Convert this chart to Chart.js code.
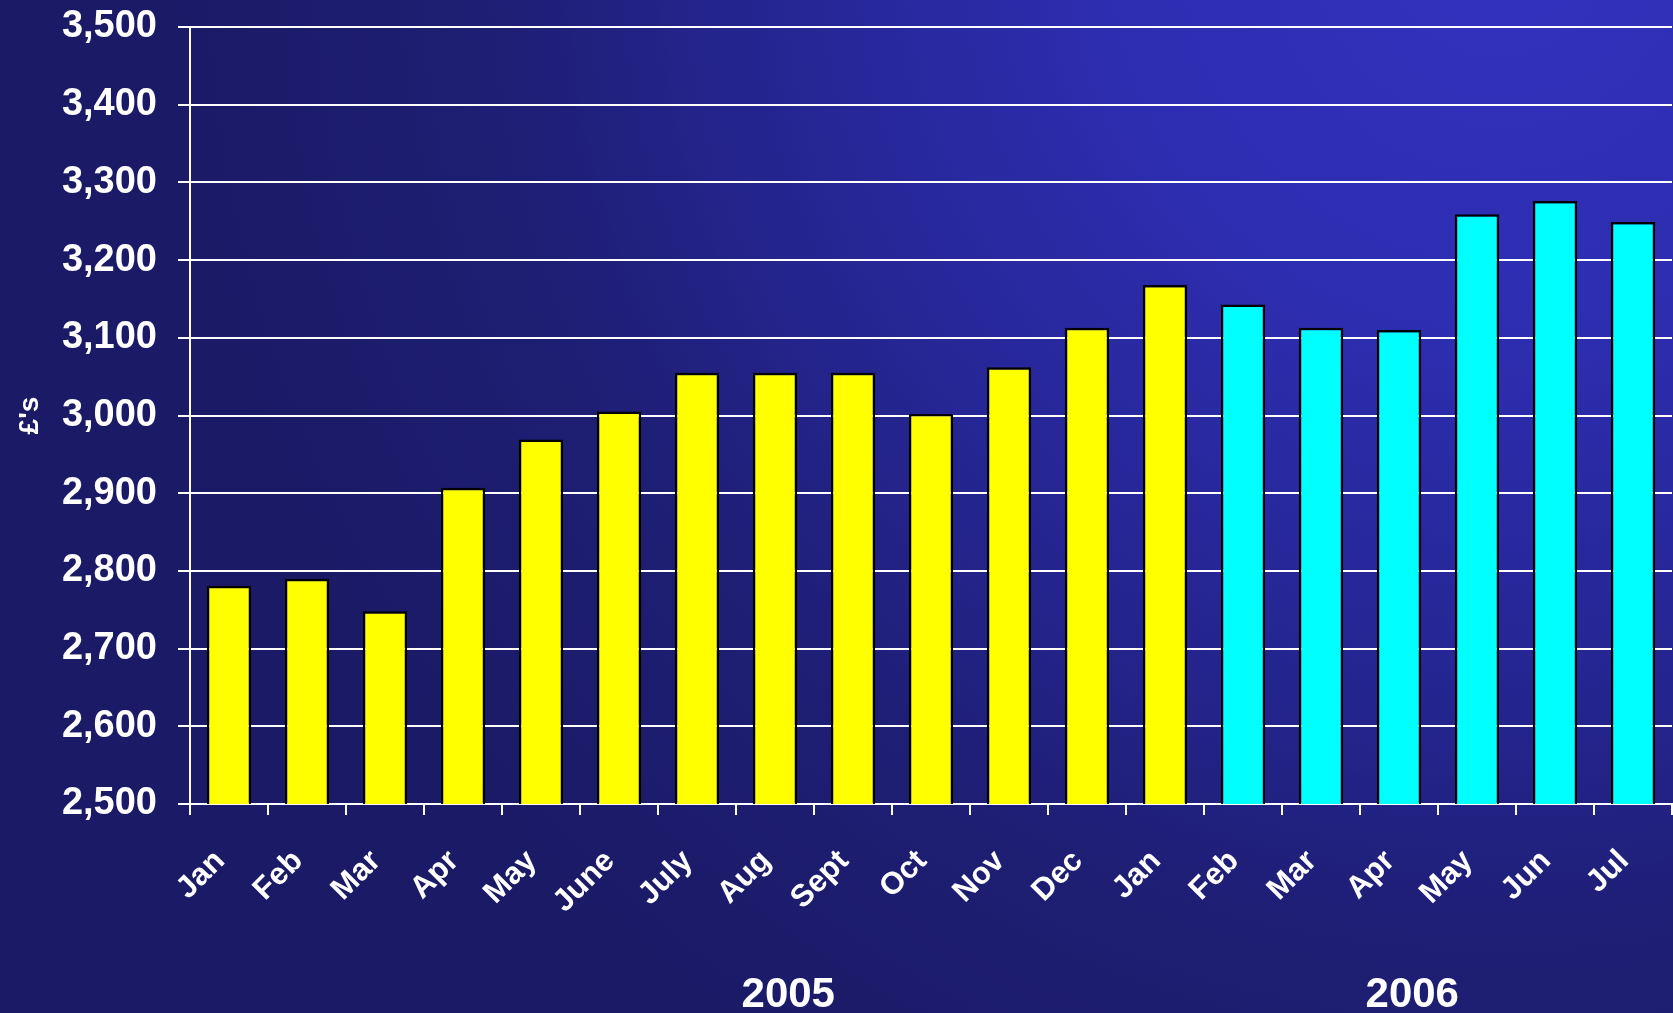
<!DOCTYPE html>
<html>
<head>
<meta charset="utf-8">
<script src="https://cdn.jsdelivr.net/npm/chart.js@4"></script>
<style>
  html, body { margin: 0; padding: 0; background: #1c1b68; }
  #wrap { width: 1673px; height: 1013px; position: relative; }
</style>
</head>
<body>
<div id="wrap"><canvas id="chart"></canvas></div>
<script>
// ============================
// DATA
// ============================
const months = ["Jan","Feb","Mar","Apr","May","June","July","Aug","Sept","Oct","Nov","Dec",
                "Jan","Feb","Mar","Apr","May","Jun","Jul"];
// first 13 months (yellow) then the last 6 (cyan)
const earlyValues = [2781, 2790, 2748, 2907, 2969, 3005, 3055, 3055, 3055, 3002, 3062, 3113, 3168];
const lateValues  = [3143, 3113, 3110, 3259, 3276, 3249];
const years = ["2005", "2006"];
const yTicks = [2500, 2600, 2700, 2800, 2900, 3000, 3100, 3200, 3300, 3400, 3500];

const FONT = "'Liberation Sans', Arial, Helvetica, sans-serif";

// pad each series with nulls so both share the same 19 slots
const earlyData = earlyValues.concat(lateValues.map(() => null));
const lateData  = earlyValues.map(() => null).concat(lateValues);

// ============================
// PLUGINS
// ============================
const background = {
  id: "background",
  beforeDraw(chart){
    const ctx = chart.ctx;
    const w = chart.width, h = chart.height;
    const g = ctx.createRadialGradient(1500, -60, 0, 1500, -60, 1350);
    g.addColorStop(0,    "#3232c0");
    g.addColorStop(0.3,  "#2d2db0");
    g.addColorStop(0.55, "#252592");
    g.addColorStop(0.75, "#1e1e74");
    g.addColorStop(1,    "#1b1a66");
    ctx.save();
    ctx.fillStyle = g;
    ctx.fillRect(0, 0, w, h);
    ctx.restore();
  }
};

const yearLabels = {
  id: "yearLabels",
  afterDraw(chart, args, opts){
    const ctx = chart.ctx;
    const x = chart.scales.x;
    ctx.save();
    ctx.fillStyle = "#ffffff";
    ctx.font = "bold 42px " + FONT;
    ctx.textAlign = "center";
    ctx.textBaseline = "alphabetic";
    years.forEach((y, i) => {
      ctx.fillText(y, x.getPixelForValue(opts.at[i]), opts.baseline);
    });
    ctx.restore();
  }
};

// ============================
// CHART
// ============================
new Chart(document.getElementById("chart"), {
  type: "bar",
  data: {
    labels: months,
    datasets: [
      {
        data: earlyData,
        backgroundColor: "#ffff00",
        borderColor: "#000000",
        borderWidth: 2.5,
        grouped: false,
        categoryPercentage: 1,
        barPercentage: 0.57
      },
      {
        data: lateData,
        backgroundColor: "#00ffff",
        borderColor: "#000000",
        borderWidth: 2.5,
        grouped: false,
        categoryPercentage: 1,
        barPercentage: 0.57
      }
    ]
  },
  options: {
    responsive: true,
    maintainAspectRatio: false,
    animation: false,
    layout: { padding: { top: 27, right: 1, bottom: 0, left: 0 } },
    plugins: {
      legend: { display: false },
      tooltip: { enabled: false },
      yearLabels: { at: [7.17, 15.17], baseline: 1007 }
    },
    scales: {
      x: {
        offset: true,
        afterFit(scale){
          scale.height = 209;
          scale.paddingLeft = 0;
          scale.paddingRight = 0;
        },
        grid: {
          drawOnChartArea: false,
          drawTicks: true,
          tickLength: 11,
          color: "#ffffff",
          lineWidth: 2,
          offset: true
        },
        border: { color: "#ffffff", width: 2 },
        ticks: {
          color: "#ffffff",
          font: { family: FONT, size: 31, weight: "bold" },
          minRotation: 45,
          maxRotation: 45,
          autoSkip: false,
          padding: 28,
          labelOffset: -9
        }
      },
      y: {
        min: 2500,
        max: 3500,
        afterFit(scale){
          scale.width = 190;
          scale.paddingTop = 0;
          scale.paddingBottom = 0;
        },
        afterBuildTicks(scale){ scale.ticks = yTicks.map(v => ({ value: v })); },
        grid: {
          color: "#ffffff",
          lineWidth: 2,
          tickLength: 12
        },
        border: { color: "#ffffff", width: 2 },
        ticks: {
          color: "#ffffff",
          font: { family: FONT, size: 38, weight: "bold" },
          padding: 21,
          callback: v => v.toLocaleString("en-US")
        },
        title: {
          display: true,
          text: "£'s",
          color: "#ffffff",
          font: { family: FONT, size: 28, weight: "bold" },
          padding: { top: 13, bottom: 0 }
        }
      }
    }
  },
  plugins: [background, yearLabels]
});
</script>
</body>
</html>
